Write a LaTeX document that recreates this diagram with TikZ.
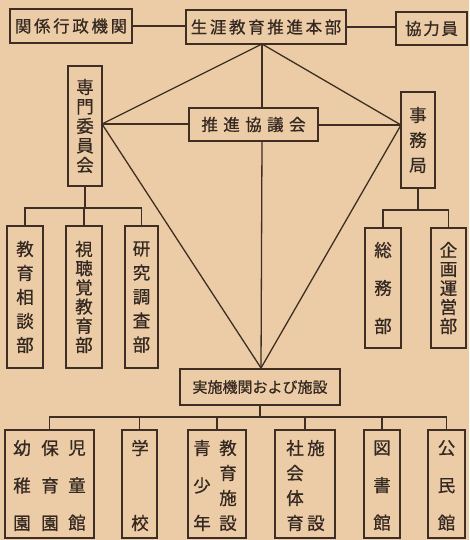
\documentclass[tikz,border=0pt]{standalone}
\usepackage{fontspec}
\setmainfont{Noto Sans CJK JP}[FakeBold=0.7]
\definecolor{bg}{RGB}{236,204,167}
\definecolor{ln}{RGB}{62,46,36}
\definecolor{tx}{RGB}{52,40,32}
\begin{document}
\begin{tikzpicture}[x=1pt,y=-1pt,
 box/.style={draw=ln, line width=1.4pt, fill=bg, inner sep=0pt, text=tx},
 conn/.style={draw=ln, line width=1.3pt},
 vt/.style={inner sep=0pt, text=tx, align=center},
 hfont/.style={font={\fontsize{16.5}{18}\selectfont\addfontfeature{LetterSpace=16}}},
]
\fill[bg] (0,0) rectangle (469,540);
\useasboundingbox (0,0) rectangle (469,540);

% top row
\node[box, hfont, minimum width=122pt, minimum height=34pt] (kankei) at (71,26) {関係行政機関};
\node[box, hfont, minimum width=160pt, minimum height=34pt] (honbu) at (266,27) {生涯教育推進本部};
\node[box, minimum width=71pt, minimum height=33pt, font={\fontsize{16.5}{18}\selectfont\addfontfeature{LetterSpace=10}}] (kyoryoku) at (431.5,28.5) {協力員};

\coordinate (apexT) at (262,44);
\coordinate (apexL) at (102,124);
\coordinate (apexR) at (401,125);
\coordinate (apexB) at (261,368);

% middle
\node[box, minimum width=129pt, minimum height=33pt, font={\fontsize{16.5}{18}\selectfont\addfontfeature{LetterSpace=33}}] (suishin) at (253.5,124.5) {推進協議会};
\node[box, vt, minimum width=34pt, minimum height=120pt, font={\fontsize{17.5}{19.5}\selectfont}] (senmon) at (85,126) {専\\門\\委\\員\\会};
\node[box, vt, minimum width=34pt, minimum height=96pt, font={\fontsize{17.5}{25}\selectfont}] (jimu) at (418,140) {事\\務\\局};

% senmon children
\node[box, vt, minimum width=36pt, minimum height=142pt, font={\fontsize{17.5}{24}\selectfont}] (soudan) at (25,297) {教\\育\\相\\談\\部};
\node[box, vt, minimum width=36pt, minimum height=142pt, font={\fontsize{17.5}{19.2}\selectfont}] (shicho) at (84,297) {視\\聴\\覚\\教\\育\\部};
\node[box, vt, minimum width=33pt, minimum height=142pt, font={\fontsize{17.5}{24}\selectfont}] (kenkyu) at (141.5,297) {研\\究\\調\\査\\部};

% jimu children
\node[box, vt, minimum width=36pt, minimum height=120pt, font={\fontsize{17.5}{38}\selectfont}] (somu) at (383,288) {総\\務\\部};
\node[box, vt, minimum width=35pt, minimum height=120pt, font={\fontsize{17.5}{19}\selectfont}] (kikaku) at (448.5,288) {企\\画\\運\\営\\部};

% implementation
\node[box, minimum width=160pt, minimum height=36pt, font={\fontsize{15}{17}\selectfont}] (jisshi) at (260,387) {実施機関および施設};

% bottom boxes
\node[box, minimum width=89pt, minimum height=108pt] (yochi) at (49.5,484) {};
\node[box, minimum width=35pt, minimum height=108pt] (gakko) at (139.5,484) {};
\node[box, minimum width=58pt, minimum height=108pt] (seisho) at (217,484) {};
\node[box, minimum width=60pt, minimum height=108pt] (shakai) at (305,484) {};
\node[box, minimum width=36pt, minimum height=108pt] (tosho) at (382,484) {};
\node[box, minimum width=37pt, minimum height=108pt] (komin) at (446.5,484) {};

\tikzset{c3/.style={vt, font={\fontsize{17.5}{37.5}\selectfont}},
         c4/.style={vt, font={\fontsize{17.5}{25}\selectfont}},
         c2/.style={vt, font={\fontsize{17.5}{75}\selectfont}}}
\node[c3] (y1) at (22,485.5) {幼\\稚\\園};
\node[c3] (y2) at (50,485.5) {保\\育\\園};
\node[c3] (y3) at (77,485.5) {児\\童\\館};
\node[c2] (g1) at (140,485.5) {学\\校};
\node[c3] (s1) at (202,485.5) {青\\少\\年};
\node[c4] (s2) at (228,485.5) {教\\育\\施\\設};
\node[c4] (k1) at (295,485.5) {社\\会\\体\\育};
\node[c2] (k2) at (316,485.5) {施\\設};
\node[c3] (t1) at (382,485.5) {図\\書\\館};
\node[c3] (m1) at (446.5,485.5) {公\\民\\館};

% connectors top row
\draw[conn] (kankei.east) -- (kankei.east -| honbu.west);
\draw[conn] (honbu.east) -- (honbu.east -| kyoryoku.west);

% kite
\draw[conn] (apexT) -- (apexL);
\draw[conn] (apexT) -- (apexR);
\draw[conn] (apexT) -- (apexT |- suishin.north);
\draw[conn] (suishin.south -| apexT) -- (apexB);
\draw[conn] (apexL) -- (apexL -| suishin.west);
\draw[conn] (suishin.east |- apexR) -- (apexR);
\draw[conn] (apexL) -- (apexB);
\draw[conn] (apexR) -- (apexB);
\draw[conn] (apexB) -- (apexB |- jisshi.north);

% senmon tree
\coordinate (bs) at (85,208);
\draw[conn] (senmon.south) -- (bs);
\draw[conn] (soudan.north) -- (soudan.north |- bs) -- (kenkyu.north |- bs) -- (kenkyu.north);
\draw[conn] (shicho.north) -- (shicho.north |- bs);

% jimu tree
\coordinate (bj) at (418,210);
\draw[conn] (jimu.south) -- (bj);
\draw[conn] (somu.north) -- (somu.north |- bj) -- (kikaku.north |- bj) -- (kikaku.north);

% bottom tree
\coordinate (bb) at (260,417);
\draw[conn] (jisshi.south) -- (bb);
\draw[conn] (yochi.north) -- (yochi.north |- bb) -- (komin.north |- bb) -- (komin.north);
\draw[conn] (gakko.north) -- (gakko.north |- bb);
\draw[conn] (seisho.north) -- (seisho.north |- bb);
\draw[conn] (shakai.north) -- (shakai.north |- bb);
\draw[conn] (tosho.north) -- (tosho.north |- bb);
\end{tikzpicture}
\end{document}
